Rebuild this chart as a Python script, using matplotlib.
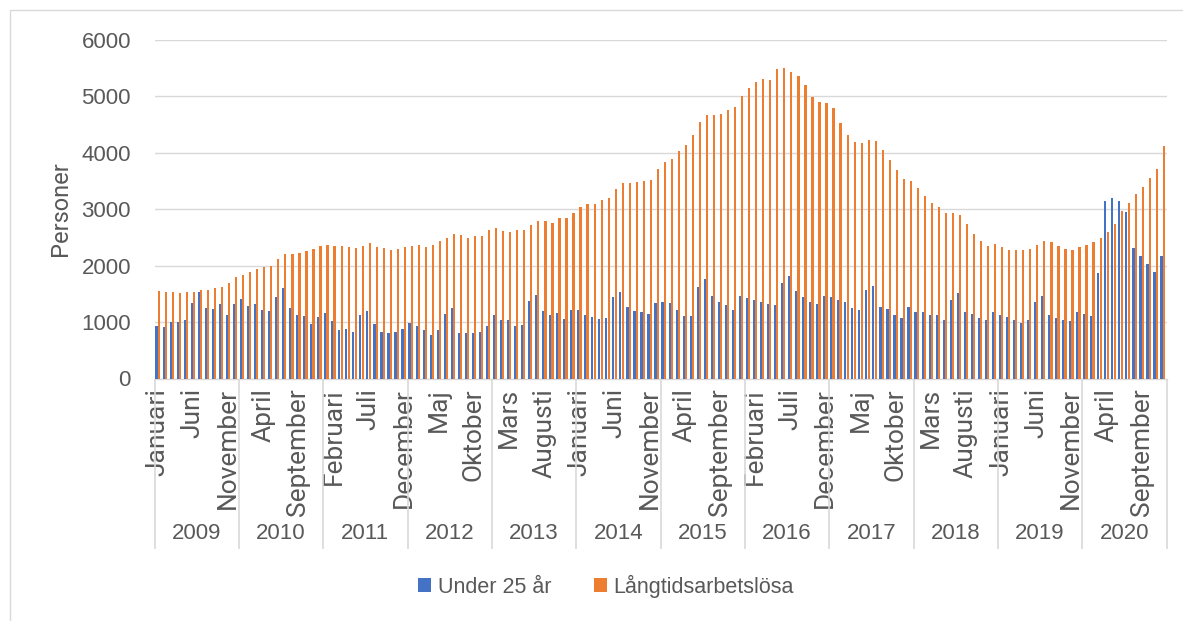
import matplotlib
matplotlib.use("Agg")
import matplotlib.pyplot as plt
import numpy as np
from matplotlib import font_manager
from matplotlib.patches import Rectangle

# data (monthly, Jan 2009 - Dec 2020)
years = [str(y) for y in range(2009, 2021)]
months = ['Januari', 'Februari', 'Mars', 'April', 'Maj', 'Juni', 'Juli',
          'Augusti', 'September', 'Oktober', 'November', 'December']

under25 = [
    930, 920, 1000, 1000, 1030, 1340, 1530, 1250, 1230, 1310, 1130, 1310,    # 2009
    1400, 1290, 1310, 1210, 1200, 1440, 1600, 1250, 1120, 1110, 970, 1090,   # 2010
    1160, 1020, 860, 870, 830, 1130, 1200, 970, 830, 800, 820, 870,          # 2011
    980, 930, 860, 770, 860, 1150, 1250, 800, 810, 800, 820, 930,            # 2012
    1120, 1030, 1030, 930, 950, 1370, 1480, 1190, 1130, 1160, 1060, 1220,    # 2013
    1220, 1120, 1080, 1050, 1070, 1440, 1530, 1260, 1190, 1170, 1150, 1330,  # 2014
    1350, 1330, 1220, 1100, 1100, 1620, 1760, 1460, 1350, 1300, 1220, 1460,  # 2015
    1420, 1390, 1350, 1320, 1300, 1690, 1810, 1550, 1440, 1350, 1310, 1460,  # 2016
    1440, 1390, 1360, 1250, 1210, 1560, 1630, 1260, 1230, 1120, 1070, 1260,  # 2017
    1180, 1170, 1120, 1120, 1040, 1390, 1520, 1180, 1150, 1070, 1030, 1170,  # 2018
    1120, 1080, 1040, 980, 1030, 1350, 1460, 1120, 1070, 1030, 1020, 1170,   # 2019
    1150, 1100, 1870, 3140, 3190, 3140, 2940, 2310, 2170, 2030, 1880, 2160,  # 2020
]

langtid = [
    1550, 1530, 1530, 1520, 1530, 1530, 1560, 1560, 1600, 1620, 1690, 1800,  # 2009
    1840, 1880, 1940, 1980, 2000, 2120, 2210, 2200, 2220, 2250, 2290, 2350,  # 2010
    2360, 2350, 2340, 2320, 2310, 2350, 2390, 2320, 2310, 2270, 2300, 2320,  # 2011
    2350, 2360, 2320, 2370, 2430, 2480, 2560, 2540, 2480, 2530, 2520, 2630,  # 2012
    2660, 2610, 2590, 2620, 2620, 2710, 2790, 2790, 2760, 2840, 2840, 2930,  # 2013
    3030, 3090, 3090, 3160, 3200, 3350, 3460, 3460, 3480, 3490, 3520, 3710,  # 2014
    3840, 3890, 4020, 4140, 4310, 4540, 4660, 4670, 4680, 4750, 4810, 5000,  # 2015
    5140, 5250, 5300, 5280, 5470, 5490, 5430, 5360, 5200, 4990, 4900, 4870,  # 2016
    4790, 4520, 4310, 4180, 4160, 4220, 4200, 4040, 3860, 3690, 3530, 3490,  # 2017
    3380, 3230, 3110, 3040, 2930, 2930, 2890, 2730, 2560, 2430, 2340, 2380,  # 2018
    2320, 2280, 2270, 2280, 2300, 2360, 2440, 2410, 2350, 2290, 2280, 2320,  # 2019
    2370, 2420, 2480, 2600, 2730, 2970, 3110, 3260, 3390, 3550, 3710, 4120,  # 2020
]

yticks = [0, 1000, 2000, 3000, 4000, 5000, 6000]

# fonts: narrow face for horizontal text if there is one
installed = {f.name for f in font_manager.fontManager.ttflist}
if 'Liberation Sans Narrow' in installed:
    narrow, hsize, lsize = 'Liberation Sans Narrow', 18, 18
else:
    narrow, hsize, lsize = 'Liberation Sans', 16, 15.5
rot_font = 'Roboto' if 'Roboto' in installed else 'Liberation Sans'
txt = '#595959'
grid = '#D9D9D9'
blue = '#4472C4'
orange = '#ED7D31'

fig = plt.figure(figsize=(11.83, 6.21), dpi=100)
W, H = 1183, 621
ax = fig.add_axes([154.5 / W, 1 - 378.5 / H, 1012 / W, 339 / H])

# frame round the whole chart
fig.patches.append(Rectangle((10 / W, -0.01), 1.01 - 10 / W, 1 - 10 / H + 0.01,
                             transform=fig.transFigure, fill=False,
                             edgecolor=grid, lw=1.0))

n = len(under25)
x = np.arange(n)
bw = 0.31
ax.bar(x - 0.165, under25, width=bw, color=blue, label='Under 25 år', zorder=3)
ax.bar(x + 0.165, langtid, width=bw, color=orange, label='Långtidsarbetslösa', zorder=3)

ax.set_xlim(-0.46, n - 0.46)
ax.set_ylim(0, 6000)
ax.set_yticks(yticks)
ax.set_yticklabels([str(v) for v in yticks], family=narrow, fontsize=hsize, color=txt)
ax.tick_params(axis='y', length=0, pad=17)
ax.grid(axis='y', color=grid, lw=1.0, zorder=0)
for s in ['top', 'right', 'left']:
    ax.spines[s].set_visible(False)
ax.spines['bottom'].set_color(grid)
ax.spines['bottom'].set_linewidth(1.0)

# month labels every fifth month
labels = [months[i % 12] for i in range(0, n, 5)]
ax.set_xticks(x[::5])
ax.set_xticklabels(labels, rotation=90, family=rot_font, fontsize=19, color=txt)
ax.tick_params(axis='x', length=0, pad=7)

# year level of the category axis
trans = ax.get_xaxis_transform()
bounds = np.arange(0, n + 1, 12) - 0.46
ax.vlines(bounds, -0.503, 0, transform=trans, color=grid, lw=1.2, clip_on=False)
for k, yr in enumerate(years):
    ax.text(12 * k + 5.54, -0.457, yr, transform=trans, ha='center', va='center',
            family=narrow, fontsize=hsize, color=txt)

ax.set_ylabel('Personer', family=rot_font, fontsize=17, color=txt, labelpad=7)

leg = fig.legend(loc='center', bbox_to_anchor=(606 / W, 1 - 586 / H), ncol=2,
                 frameon=False, prop={'family': narrow, 'size': lsize},
                 handlelength=0.6, handleheight=0.6, handletextpad=0.3,
                 columnspacing=2.0)
for t in leg.get_texts():
    t.set_color(txt)

fig.savefig('out.png', dpi=100)
